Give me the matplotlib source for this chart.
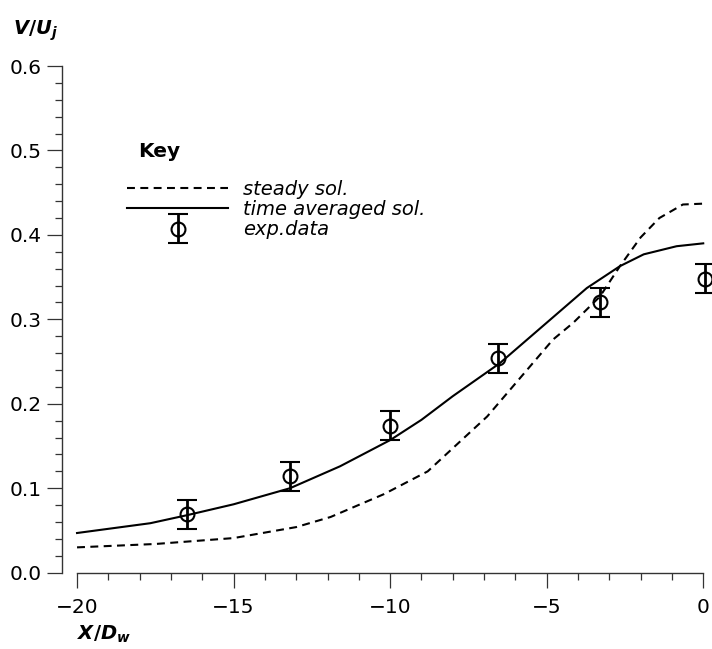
import numpy as np
import matplotlib
matplotlib.use("Agg")
import matplotlib.pyplot as plt
from matplotlib.ticker import MultipleLocator
from matplotlib.legend_handler import HandlerErrorbar
from matplotlib.container import ErrorbarContainer

# steady solution (dashed)
x_steady = [-20.0, -17.5, -15.0, -13.0, -11.9, -10.2, -8.8, -6.9, -4.8, -4.15,
            -3.3, -2.66, -2.0, -1.4, -0.65, 0.0]
y_steady = [0.030, 0.034, 0.041, 0.054, 0.066, 0.093, 0.120, 0.185, 0.276, 0.296,
            0.327, 0.363, 0.397, 0.420, 0.436, 0.437]

# time averaged solution (solid)
x_avg = [-20.0, -17.66, -16.5, -15.0, -13.2, -11.6, -10.0, -9.0, -8.0, -6.5,
         -5.0, -3.72, -2.66, -1.9, -0.85, 0.0]
y_avg = [0.047, 0.0586, 0.068, 0.081, 0.100, 0.126, 0.157, 0.181, 0.209, 0.248,
         0.296, 0.337, 0.363, 0.377, 0.3866, 0.390]

# experimental data
x_exp = [-16.5, -13.2, -10.0, -6.55, -3.3, 0.05]
y_exp = [0.069, 0.114, 0.174, 0.254, 0.320, 0.348]
err_exp = [0.017, 0.017, 0.017, 0.017, 0.017, 0.017]

labels = ["steady sol.", "time averaged sol.", "exp.data"]

plt.rcParams["font.family"] = ["DejaVu Sans"]
plt.rcParams["mathtext.fontset"] = "custom"
plt.rcParams["mathtext.it"] = "DejaVu Sans:italic:bold"
plt.rcParams["mathtext.rm"] = "DejaVu Sans:bold"

W, H = 712, 649
fig = plt.figure(figsize=(W / 100, H / 100), dpi=100)
ax = fig.add_axes([61.7 / W, 1 - 572.7 / H, (W - 61.7) / W, (572.7 - 66) / H])

l1, = ax.plot(x_steady, y_steady, color="black", lw=1.5, linestyle=(0, (3.8, 2.6)))
l2, = ax.plot(x_avg, y_avg, color="black", lw=1.5)
eb = ax.errorbar(x_exp, y_exp, yerr=err_exp, fmt="o", mfc="none", mec="black",
                 mew=1.5, ms=10, ecolor="black", elinewidth=2.0, capsize=7.2,
                 capthick=2.6, zorder=3)

ax.set_xlim(-20.49, 0.28)
ax.set_ylim(0, 0.6)

for s in ["top", "right"]:
    ax.spines[s].set_visible(False)
ax.spines["left"].set_bounds(0, 0.6)
ax.spines["bottom"].set_bounds(-20, 0)
for s in ["left", "bottom"]:
    ax.spines[s].set_color("#333333")
    ax.spines[s].set_linewidth(1.0)

ax.xaxis.set_major_locator(MultipleLocator(5))
ax.xaxis.set_minor_locator(MultipleLocator(1))
ax.yaxis.set_major_locator(MultipleLocator(0.1))
ax.yaxis.set_minor_locator(MultipleLocator(0.02))
ax.set_xticks([-20, -15, -10, -5, 0])
ax.set_xticklabels(["\u221220", "\u221215", "\u221210", "\u22125", "0"])
ax.set_yticks([0.0, 0.1, 0.2, 0.3, 0.4, 0.5, 0.6])
ax.set_yticklabels(["0.0", "0.1", "0.2", "0.3", "0.4", "0.5", "0.6"])

ax.tick_params(axis="both", which="major", length=10.5, width=0.9, color="#333333",
               labelsize=14.5)
ax.tick_params(axis="both", which="minor", length=5, width=0.9, color="#333333")
ax.tick_params(axis="y", which="major", pad=3.6)
ax.tick_params(axis="x", which="major", pad=7.5)

fig.text(12.7 / W, 1 - 34.3 / H, r"$V/U_j$", fontsize=14, va="baseline", ha="left")
fig.text(77 / W, 1 - 640 / H, r"$X/D_w$", fontsize=14, va="baseline", ha="left")

fig.text(138 / W, 1 - 157 / H, "Key", fontsize=14.5, fontweight="bold",
         va="baseline", ha="left")

leg = ax.legend([l1, l2, eb], labels, loc="upper left",
                bbox_to_anchor=(127 / W, 1 - 180 / H), bbox_transform=fig.transFigure,
                frameon=False, prop={"style": "italic", "size": 14},
                handlelength=5.2, handletextpad=0.75, labelspacing=0.06,
                borderpad=0, borderaxespad=0,
                handler_map={ErrorbarContainer: HandlerErrorbar(xerr_size=0.5, yerr_size=0.75)})

fig.savefig("out.png", dpi=100)
